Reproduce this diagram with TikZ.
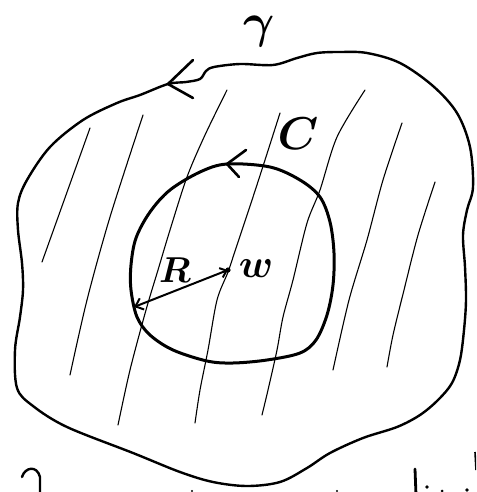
\documentclass[tikz,border=0pt]{standalone}
\usepackage{fix-cm}
\usepackage{bm}
\usetikzlibrary{arrows.meta}
\tikzset{
  outercurve/.style={line width=2.4pt, line join=round, line cap=round},
  innercurve/.style={line width=3pt, line join=round, line cap=round},
  hatchline/.style={line width=1.1pt, line cap=round},
  barbline/.style={line width=2.6pt, line cap=round},
  radiusarrow/.style={line width=2pt, {Straight Barb[length=7pt,width=12pt,line width=2pt]}-{Straight Barb[length=6pt,width=10pt,line width=2pt]}},
  lbl/.style={inner sep=0pt, outer sep=0pt}
}
\begin{document}
\begin{tikzpicture}[x=1pt,y=-1pt]
\useasboundingbox (0,0) rectangle (476,492);
\clip (0,0) rectangle (476,492);

% hatching
\draw[hatchline] (90,128) -- (42,262);
\draw[hatchline] plot[smooth] coordinates {(143,115) (110,217) (87,300) (70,375)};
\draw[hatchline] plot[smooth] coordinates {(227,90) (205,135) (187,177) (170,230) (158,270) (146,310) (130,370) (118,425)};
\draw[hatchline] plot[smooth] coordinates {(280,113) (265,160) (253,197) (237,245) (228,272) (217,300) (208,350) (200,390) (195,423)};
\draw[hatchline] plot[smooth] coordinates {(365,90) (337,137) (320,190) (307,223) (293,280) (283,317) (277,350) (268,390) (262,415)};
\draw[hatchline] plot[smooth] coordinates {(402,123) (383,180) (367,240) (349,300) (333,370)};
\draw[hatchline] plot[smooth] coordinates {(435,182) (418,235) (404,290) (393,335) (387,367)};

% outer curve gamma
\draw[outercurve] plot[smooth cycle, tension=0.55] coordinates {
 (140,95) (168,84) (186,82) (200,79) (206,71) (214,67) (240,64) (273,65) (297,58) (317,53) (340,52) (367,53) (400,63) (433,86) (457,113) (470,147) (473,187) (467,210) (463,235) (465,267) (466,300) (464,330) (460,360) (452,383) (438,400) (420,415) (397,427) (363,438) (330,453) (307,468) (280,482) (247,486) (213,482) (180,472) (133,453) (67,427) (33,406) (17,388) (15,350) (20,317) (23,290) (22,263) (18,230) (18,203) (27,180) (50,147) (83,120) (117,103)};
\coordinate (gtip) at (168,84);
\coordinate (gb1) at (193,60);
\coordinate (gb2) at (193,98);
\draw[barbline] (gb1) -- (gtip) -- (gb2);

% inner circle C
\draw[innercurve] plot[smooth cycle, tension=0.55] coordinates {
 (227,164) (270,167) (300,180) (320,197) (330,222) (334,253) (333,285) (327,315) (316,340) (300,353) (267,360) (233,363) (207,361) (173,350) (150,335) (137,317) (131,290) (131,265) (136,238) (150,212) (170,190) (200,172)};
\coordinate (ctip) at (227,164);
\coordinate (cb1) at (246,150);
\coordinate (cb2) at (239,177);
\draw[barbline] (cb1) -- (ctip) -- (cb2);

% centre w and radius
\coordinate (w) at (228,270);
\coordinate (rp) at (134,307);
\fill (w) circle (2.6pt);
\draw[radiusarrow] (rp) -- (w);

% labels
\node[lbl, font=\fontsize{48}{48}\selectfont] (gammalbl) at (259,32) {$\bm{\gamma}$};
\node[lbl, font=\fontsize{46}{46}\selectfont] (clbl) at (298,134) {$\bm{C}$};
\node[lbl, font=\fontsize{36}{36}\selectfont] (rlbl) at (175,270) {$\bm{R}$};
\node[lbl, font=\fontsize{40}{40}\selectfont] (wlbl) at (256,269) {$\bm{w}$};

% fragments of the cut-off line of text below
\draw[line width=2.4pt, line cap=round] (22,477) .. controls (25,467) and (37,465) .. (40,477) -- (40,495);
\draw[line width=2.8pt, line cap=round] (415,469) -- (416,495);
\fill (427,487) circle (1.8pt);
\fill (442,491) circle (1.5pt);
\fill (467,490) circle (1.8pt);
\fill (192,491) circle (1.2pt);
\fill (337,491) circle (1.2pt);
\draw[line width=1.6pt] (475,452) -- (476,470);
\end{tikzpicture}
\end{document}
